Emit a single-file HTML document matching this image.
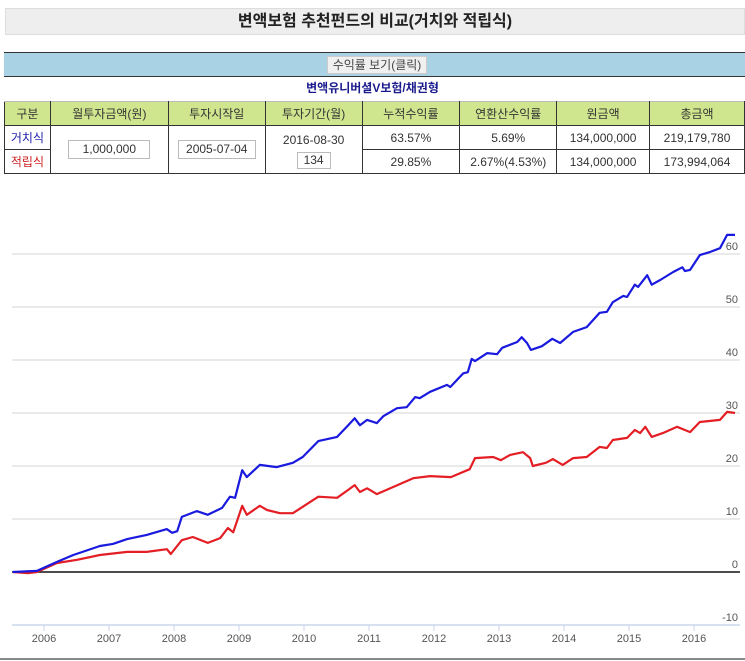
<!DOCTYPE html>
<html><head><meta charset="utf-8">
<style>
body{margin:0;width:745px;height:661px;overflow:hidden;background:#fff;font-family:"Liberation Sans","Noto Sans CJK KR",sans-serif;position:relative}
.abs{position:absolute}
#title{left:5px;top:8px;width:740px;height:27px;background:#eee;border:1px solid #ddd;box-sizing:border-box;text-align:center;font-size:16px;font-weight:bold;line-height:26px;color:#222}
#band{left:4px;top:52px;width:741px;height:25px;background:#a9d3e5;border-top:1px solid #333;border-bottom:1px solid #333;box-sizing:border-box}
#btn{left:323px;top:3px;width:100px;height:18px;background:#f0f0f0;border:1px solid #ccc;box-sizing:border-box;font-size:12px;line-height:16px;text-align:center;color:#444}
#sub{left:0;top:79px;width:745px;text-align:center;font-size:12px;font-weight:bold;color:#1b1b8e}
table{position:absolute;left:4px;top:101px;border-collapse:collapse;font-size:12px;color:#333}
td{border:1px solid #333;text-align:center;padding:0}
tr.h td{background:#cfe68f;height:23px;border-top:1px solid #bbb}
tr.r td{height:23px}
.inp{display:inline-block;border:1px solid #bbb;padding:0 2px;height:17px;line-height:17px}
</style></head><body>
<div id="title" class="abs">변액보험 추천펀드의 비교(거치와 적립식)</div>
<div id="band" class="abs"><div id="btn" class="abs">수익률 보기(클릭)</div></div>
<div id="sub" class="abs">변액유니버셜V보험/채권형</div>
<table>
<tr class="h"><td style="width:45px">구분</td><td style="width:117px">월투자금액(원)</td><td style="width:96px">투자시작일</td><td style="width:96px">투자기간(월)</td><td style="width:97px">누적수익률</td><td style="width:96px">연환산수익률</td><td style="width:92px">원금액</td><td style="width:94px">총금액</td></tr>
<tr class="r"><td style="color:#2222aa">거치식</td><td rowspan="2"><span class="inp" style="width:76px">1,000,000</span></td><td rowspan="2"><span class="inp" style="width:72px">2005-07-04</span></td><td rowspan="2" style="line-height:20px">2016-08-30<br><span class="inp" style="width:28px;line-height:15px;height:15px">134</span></td><td>63.57%</td><td>5.69%</td><td>134,000,000</td><td>219,179,780</td></tr>
<tr class="r"><td style="color:#cc2222">적립식</td><td>29.85%</td><td>2.67%(4.53%)</td><td>134,000,000</td><td>173,994,064</td></tr>
</table>
<svg class="abs" style="left:0;top:0" width="745" height="661">
<g id="grid"></g><g id="xax"></g><g id="lines"></g>
<line x1="0" y1="659" x2="745" y2="659" stroke="#888" stroke-width="2"/>
</svg>
<script>
const yTicks=[-10,0,10,20,30,40,50,60];
const xYears=[2006,2007,2008,2009,2010,2011,2012,2013,2014,2015,2016];
const blueT=[2005.52,2005.89,2006.20,2006.45,2006.86,2007.06,2007.28,2007.58,2007.89,2007.97,2008.05,2008.12,2008.35,2008.52,2008.74,2008.86,2008.94,2009.05,2009.12,2009.32,2009.58,2009.83,2009.98,2010.22,2010.51,2010.68,2010.78,2010.86,2010.97,2011.12,2011.22,2011.43,2011.58,2011.71,2011.78,2011.94,2012.20,2012.25,2012.45,2012.52,2012.58,2012.63,2012.82,2012.97,2013.05,2013.28,2013.35,2013.43,2013.49,2013.66,2013.82,2013.94,2014.14,2014.35,2014.55,2014.66,2014.75,2014.91,2014.97,2015.09,2015.14,2015.28,2015.35,2015.48,2015.68,2015.82,2015.86,2015.94,2016.09,2016.25,2016.40,2016.51,2016.63];
const blueV=[0,0.2,1.9,3.2,4.9,5.3,6.2,7,8.1,7.4,7.7,10.4,11.5,10.8,12.1,14.2,14,19.2,17.9,20.2,19.8,20.6,21.7,24.7,25.5,27.7,29,27.7,28.7,28.1,29.4,30.9,31.1,33,32.8,34,35.3,34.9,37.5,37.7,40.2,39.8,41.3,41.1,42.3,43.4,44.3,43.2,41.9,42.6,44,43.2,45.3,46.2,48.9,49.1,50.9,52.1,51.9,54.2,53.8,56,54.2,55.1,56.6,57.5,56.8,57,59.8,60.4,61.1,63.6,63.6];
const redT=[2005.52,2005.75,2005.89,2006.20,2006.51,2006.86,2007.28,2007.58,2007.89,2007.95,2008.12,2008.29,2008.52,2008.71,2008.83,2008.91,2009.05,2009.12,2009.32,2009.43,2009.63,2009.83,2009.98,2010.22,2010.51,2010.68,2010.78,2010.86,2010.97,2011.12,2011.68,2011.94,2012.26,2012.55,2012.63,2012.91,2013.03,2013.17,2013.37,2013.48,2013.52,2013.72,2013.83,2013.98,2014.14,2014.35,2014.55,2014.66,2014.75,2014.97,2015.09,2015.17,2015.25,2015.35,2015.52,2015.74,2015.86,2015.94,2016.09,2016.40,2016.51,2016.63];
const redV=[0,-0.2,0,1.7,2.3,3.2,3.8,3.8,4.3,3.4,6,6.6,5.5,6.4,8.3,7.5,12.5,10.8,12.5,11.7,11.1,11.1,12.3,14.2,14,15.5,16.4,15.1,15.8,14.7,17.7,18.1,17.9,19.4,21.5,21.7,21.1,22.1,22.6,21.5,20,20.6,21.3,20.2,21.5,21.7,23.6,23.4,24.9,25.3,26.8,26.2,27.4,25.5,26.2,27.4,26.8,26.4,28.3,28.7,30.2,30];
const NS="http://www.w3.org/2000/svg";
const yS=v=>572-v*5.3;
const xS=t=>44+(t-2006)*65;
function mk(tag,attrs,parent){const e=document.createElementNS(NS,tag);for(const k in attrs)e.setAttribute(k,attrs[k]);parent.appendChild(e);return e;}
const grid=document.getElementById('grid'),xax=document.getElementById('xax'),lines=document.getElementById('lines');
yTicks.forEach(v=>{
 if(v!==0&&v!==-10){const g=mk('line',{x1:12,x2:740,y1:yS(v),y2:yS(v),stroke:'#e4e4e4','stroke-width':1.5},grid);
 
 }
 const t=mk('text',{x:738,y:yS(v)-4,'text-anchor':'end','font-size':11,fill:'#555','font-family':'Liberation Sans, sans-serif'},grid);
 t.textContent=v;
 
 
});
const zl=mk('line',{x1:12,x2:740,y1:yS(0),y2:yS(0),stroke:'#111','stroke-width':1.5},grid);


const ax=mk('line',{x1:12,x2:740,y1:625,y2:625,stroke:'#c9d5e8','stroke-width':1.5},xax);


xYears.forEach(y=>{
 const tk=mk('line',{x1:xS(y),x2:xS(y),y1:625,y2:631,stroke:'#c9d5e8'},xax);
 
 
 const t=mk('text',{x:xS(y),y:642,'text-anchor':'middle','font-size':11,fill:'#555','font-family':'Liberation Sans, sans-serif'},xax);
 t.textContent=y;
 
 
});
function series(T,V,color,name){
 const d=T.map((t,i)=>(i?'L':'M')+xS(t).toFixed(1)+' '+yS(V[i]).toFixed(1)).join(' ');
 const p=mk('path',{d:d,fill:'none',stroke:color,'stroke-width':2.2,'stroke-linejoin':'round'},lines);
 
 
}
series(redT,redV,'#e31e24','installment-series');
series(blueT,blueV,'#1a1adf','lump-sum-series');
</script>
</body></html>
